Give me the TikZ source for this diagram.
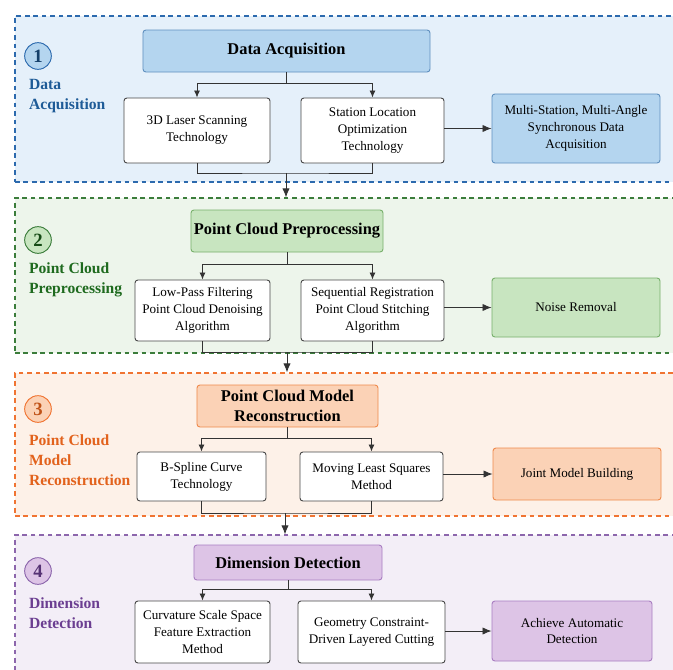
\documentclass[tikz,border=0pt]{standalone}
\usepackage{fontspec}
\setmainfont{Liberation Serif}
\usetikzlibrary{arrows.meta}
\definecolor{acqline}{HTML}{2C6AAE}
\definecolor{acqfill}{HTML}{E5F0FA}
\definecolor{acqhead}{HTML}{B4D5EF}
\definecolor{acqedge}{HTML}{5F90BF}
\definecolor{acqtext}{HTML}{1E5B97}
\definecolor{preline}{HTML}{3B7D3B}
\definecolor{prefill}{HTML}{EDF5EB}
\definecolor{prehead}{HTML}{C8E5C0}
\definecolor{preedge}{HTML}{78B06B}
\definecolor{pretext}{HTML}{1E6A1E}
\definecolor{recline}{HTML}{F07432}
\definecolor{recfill}{HTML}{FDF1E8}
\definecolor{rechead}{HTML}{FBD2B6}
\definecolor{recedge}{HTML}{EF8A4C}
\definecolor{rectext}{HTML}{E2621C}
\definecolor{detline}{HTML}{8C66AC}
\definecolor{detfill}{HTML}{F3EEF7}
\definecolor{dethead}{HTML}{DDC4E6}
\definecolor{detedge}{HTML}{A97EC2}
\definecolor{dettext}{HTML}{6B3E91}
\begin{document}
\begin{tikzpicture}[x=0.03cm,y=-0.03cm,
  panel/.style={line width=1.1pt,dash pattern=on 4pt off 3.2pt,minimum width=20.25cm,inner sep=0pt},
  headbox/.style={rounded corners=2.5pt,line width=0.8pt,align=center,inner sep=0pt,
    font=\fontsize{14}{16.5}\selectfont\bfseries},
  textbox/.style={draw=black!72,fill=white,rounded corners=2.5pt,line width=0.8pt,align=center,
    inner sep=0pt,font=\fontsize{11.2}{14.5}\selectfont},
  outbox/.style={rounded corners=2.5pt,line width=0.8pt,align=center,inner sep=0pt,
    font=\fontsize{11.2}{14.5}\selectfont},
  numcirc/.style={circle,line width=0.8pt,minimum size=0.8cm,inner sep=0pt,
    font=\fontsize{16}{16}\selectfont\bfseries},
  sidelabel/.style={anchor=west,align=left,font=\fontsize{13.3}{17}\selectfont\bfseries},
  link/.style={draw=black!80,line width=0.75pt},
  tip/.style={-{Latex[length=2.1mm,width=1.8mm]}},
  bigtip/.style={-{Latex[length=2.7mm,width=2.2mm]}}
]
\clip (0,0) rectangle (673,669);
\fill[white] (0,0) rectangle (673,669);

\node[panel,draw=acqline,fill=acqfill,minimum height=4.98cm] (p1) at (352.5,99) {};
\node[panel,draw=preline,fill=prefill,minimum height=4.65cm] (p2) at (352.5,275.5) {};
\node[panel,draw=recline,fill=recfill,minimum height=4.29cm] (p3) at (352.5,444.5) {};
\node[panel,draw=detline,fill=detfill,minimum height=4.65cm] (p4) at (352.5,612.5) {};

\node[numcirc,draw=acqline,fill=acqhead,text=acqtext!70!black] (n1) at (38,56) {1};
\node[sidelabel,text=acqtext] (s1) at (25,96) {Data\\Acquisition};
\node[numcirc,draw=preline,fill=prehead,text=pretext!70!black] (n2) at (38,240) {2};
\node[sidelabel,text=pretext] (s2) at (25,280) {Point Cloud\\Preprocessing};
\node[numcirc,draw=recline,fill=rechead,text=rectext!85!black] (n3) at (38,409) {3};
\node[sidelabel,text=rectext] (s3) at (25,460) {Point Cloud\\Model\\Reconstruction};
\node[numcirc,draw=detline,fill=dethead,text=dettext!80!black] (n4) at (38,571) {4};
\node[sidelabel,text=dettext] (s4) at (25,613) {Dimension\\Detection};

\node[headbox,draw=acqedge,fill=acqhead,minimum width=8.61cm,minimum height=1.26cm] (ha) at (286.5,51) {Data Acquisition};
\node[textbox,minimum width=4.38cm,minimum height=1.95cm] (a1) at (197,130.5) {3D Laser Scanning\\Technology};
\node[textbox,minimum width=4.29cm,minimum height=1.95cm] (a2) at (372.5,130.5) {Station Location\\Optimization\\Technology};
\node[outbox,draw=acqedge,fill=acqhead,minimum width=5.04cm,minimum height=2.07cm] (a3) at (576,128.5) {Multi-Station, Multi-Angle\\Synchronous Data\\Acquisition};

\draw[link,tip] (ha.south) -- ++(0,11) -| (a1.north);
\draw[link,tip] (ha.south) -- ++(0,11) -| (a2.north);
\coordinate (ja) at (286,173);
\draw[link] (a1.south) |- (ja) -| (a2.south);
\draw[link,bigtip] (ja) -- (ja |- p2.north);
\draw[link,bigtip] (a2.east |- a3.west) -- (a3.west);

\node[headbox,draw=preedge,fill=prehead,minimum width=5.76cm,minimum height=1.26cm] (hb) at (287,231) {Point Cloud Preprocessing};
\node[textbox,minimum width=4.05cm,minimum height=1.83cm] (b1) at (202.5,310.5) {Low-Pass Filtering\\Point Cloud Denoising\\Algorithm};
\node[textbox,minimum width=4.29cm,minimum height=1.83cm] (b2) at (372.5,310.5) {Sequential Registration\\Point Cloud Stitching\\Algorithm};
\node[outbox,draw=preedge,fill=prehead,minimum width=5.04cm,minimum height=1.77cm] (b3) at (576,307.5) {Noise Removal};

\draw[link,tip] (hb.south) -- ++(0,12) -| (b1.north);
\draw[link,tip] (hb.south) -- ++(0,12) -| (b2.north);
\coordinate (jb) at (287,352);
\draw[link] (b1.south) |- (jb) -| (b2.south);
\draw[link,bigtip] (jb) -- (jb |- p3.north);
\draw[link,bigtip] (b2.east |- b3.west) -- (b3.west);

\node[headbox,draw=recedge,fill=rechead,minimum width=5.43cm,minimum height=1.26cm] (hc) at (287.5,406) {Point Cloud Model\\Reconstruction};
\node[textbox,minimum width=3.87cm,minimum height=1.47cm] (c1) at (201.5,476.5) {B-Spline Curve\\Technology};
\node[textbox,minimum width=4.29cm,minimum height=1.47cm] (c2) at (371.5,476.5) {Moving Least Squares\\Method};
\node[outbox,draw=recedge,fill=rechead,minimum width=5.04cm,minimum height=1.56cm] (c3) at (577,474) {Joint Model Building};

\draw[link,tip] (hc.south) -- ++(0,11) -| (c1.north);
\draw[link,tip] (hc.south) -- ++(0,11) -| (c2.north);
\coordinate (jc) at (285,513);
\draw[link] (c1.south) |- (jc) -| (c2.south);
\draw[link,bigtip] (jc) -- (jc |- p4.north);
\draw[link,bigtip] (c2.east |- c3.west) -- (c3.west);

\node[headbox,draw=detedge,fill=dethead,minimum width=5.64cm,minimum height=1.05cm] (hd) at (288,562.5) {Dimension Detection};
\node[textbox,minimum width=4.05cm,minimum height=1.86cm] (d1) at (202.5,632) {Curvature Scale Space\\Feature Extraction\\Method};
\node[textbox,minimum width=4.41cm,minimum height=1.86cm] (d2) at (371.5,632) {Geometry Constraint-\\Driven Layered Cutting};
\node[outbox,draw=detedge,fill=dethead,minimum width=4.8cm,minimum height=1.8cm] (d3) at (572,631) {Achieve Automatic\\Detection};

\draw[link,tip] (hd.south) -- ++(0,9) -| (d1.north);
\draw[link,tip] (hd.south) -- ++(0,9) -| (d2.north);
\draw[link,bigtip] (d2.east |- d3.west) -- (d3.west);

\end{tikzpicture}
\end{document}
